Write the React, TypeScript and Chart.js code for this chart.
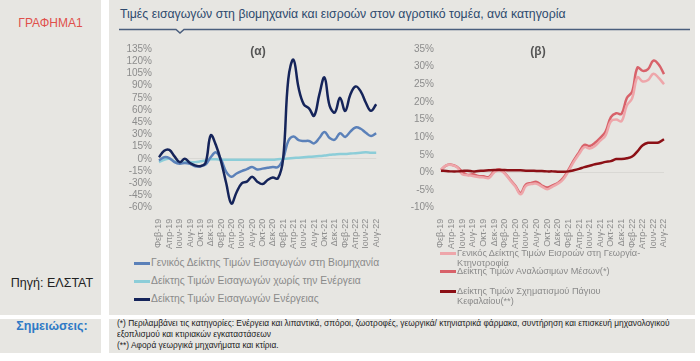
import React, { useEffect, useRef } from 'react';
import { Chart, registerables } from 'chart.js';
Chart.register(...registerables);

const months = [
  'Φεβ-19','Μαρ-19','Απρ-19','Μαϊ-19','Ιουν-19','Ιουλ-19','Αυγ-19','Σεπ-19','Οκτ-19','Νοε-19','Δεκ-19',
  'Ιαν-20','Φεβ-20','Μαρ-20','Απρ-20','Μαϊ-20','Ιουν-20','Ιουλ-20','Αυγ-20','Σεπ-20','Οκτ-20','Νοε-20','Δεκ-20',
  'Ιαν-21','Φεβ-21','Μαρ-21','Απρ-21','Μαϊ-21','Ιουν-21','Ιουλ-21','Αυγ-21','Σεπ-21','Οκτ-21','Νοε-21','Δεκ-21',
  'Ιαν-22','Φεβ-22','Μαρ-22','Απρ-22','Μαϊ-22','Ιουν-22','Ιουλ-22','Αυγ-22',
];

// (α) import prices in industry, % change
const industryGeneral = [
  -2, 2, 1, -4, -6, -5, -6, -9, -9, -7, 2, 8, -1, -16, -22, -18, -15, -12.6, -10, -13, -12, -11, -10,
  -10, 0, 22, 27.5, 23, 22, 22, 19, 25.6, 33, 25.6, 23.6, 31.5, 27, 33.5, 38.6, 37, 32, 28, 31.5,
];
const industryExEnergy = [
  -4, -1, 0, -3, -5, -4, -4, -4, -3, -2, -0.5, -0.5, -1, -1, -1, -1, -1, -1, -1, -1, -1, -1, -1,
  -0.5, 0, 0.5, 1, 1.5, 2, 2.5, 3, 3.5, 4, 5, 5.5, 6, 6, 6.5, 7, 7.5, 8, 7.5, 7.5,
];
const industryEnergy = [
  2, 10, 11, 3, -4, 0, -5, -8, -9, -5, 29, 17, -3, -30, -55, -41, -30, -28, -22, -28, -31, -26, -23,
  -24, 0, 98, 122, 87, 67, 62, 53, 79, 100, 65, 57, 75, 59, 79, 89, 83, 69, 59, 67,
];

// (β) input prices in agriculture, % change
const agriGeneral = [
  0.8, 2, 2.1, 1.5, -0.5, -0.8, -1, -1.3, -1.4, -1.6, 0, 0.7, -0.3, -2.2, -4, -6.2, -3.8, -3.3, -3.2, -4, -4.8, -4, -3.2,
  -2, 0.3, 3, 5.2, 7.2, 6.8, 7.5, 9, 10.5, 14.5, 15, 14.5, 19, 21, 27, 25.8, 26.2, 28, 26.8, 25,
];
const agriConsumables = [
  0.7, 2, 2.2, 1.6, 0.2, -0.7, -0.5, -1, -1.1, -1.3, 0.3, 0.9, -0.2, -2, -3.8, -5.8, -3.4, -3, -2.7, -3.7, -4.3, -3.7, -3,
  -1.6, 0.7, 3.4, 5.7, 7.8, 7.5, 8.4, 9.8, 11.6, 15.7, 16.8, 16.6, 21.1, 22.9, 29.7, 28.8, 29.3, 31.7, 30.6, 27.9,
];
const agriCapital = [
  0.5, 0.4, 0.3, 0.3, 0.4, 0.5, 0.3, 0.4, 0.5, 0.6, 0.7, 0.7, 0.7, 0.6, 0.6, 0.6, 0.5, 0.5, 0.4, 0.4, 0.3, 0.3, 0.2,
  0.2, 0.3, 0.6, 1, 1.5, 1.9, 2.3, 2.6, 3, 3.2, 3.8, 3.8, 4, 4.5, 6, 7.7, 8.4, 8.4, 8.5, 9.4,
];

const leftAxis = { min: -60, max: 135, step: 15 };
const rightAxis = { min: -10, max: 35, step: 5 };

const leftLegend = [
  { label: 'Γενικός Δείκτης Τιμών Εισαγωγών στη Βιομηχανία', color: '#5b81b9' },
  { label: 'Δείκτης Τιμών Εισαγωγών χωρίς την Ενέργεια', color: '#8ccdd8' },
  { label: 'Δείκτης Τιμών Εισαγωγών Ενέργειας', color: '#15245a' },
];
const rightLegend = [
  { label: ['Γενικός Δείκτης Τιμών Εισροών στη Γεωργία-', 'Κτηνοτροφία'], color: '#eea6aa' },
  { label: ['Δείκτης Τιμών Αναλώσιμων Μέσων(*)'], color: '#d8626a' },
  { label: ['Δείκτης Τιμών Σχηματισμού Πάγιου', 'Κεφαλαίου(**)'], color: '#8c1016' },
];

const notes = [
  '(*) Περιλαμβάνει τις κατηγορίες: Ενέργεια και λιπαντικά, σπόροι, ζωοτροφές, γεωργικά/ κτηνιατρικά φάρμακα, συντήρηση και επισκευή μηχανολογικού',
  'εξοπλισμού και κτιριακών εγκαταστάσεων',
  '(**) Αφορά γεωργικά μηχανήματα και κτίρια.',
];

const SANS = '"Liberation Sans", Arial, sans-serif';
const BG = '#e7e6e2';

type DS = { data: number[]; color: string; width: number; order: number };

function LineChart(props: {
  left: number; top: number; width: number; height: number;
  series: DS[]; axis: { min: number; max: number; step: number };
  yWidth: number; padRight: number; padTop: number; xHeight: number;
}) {
  const ref = useRef<HTMLCanvasElement | null>(null);
  useEffect(() => {
    if (!ref.current) return;
    const chart = new Chart(ref.current, {
      type: 'line',
      data: {
        labels: months,
        datasets: props.series.map((s) => ({
          data: s.data,
          borderColor: s.color,
          backgroundColor: s.color,
          borderWidth: s.width,
          pointRadius: 0,
          tension: 0.4,
          fill: false,
          order: s.order,
        })),
      },
      options: {
        animation: false,
        responsive: false,
        maintainAspectRatio: false,
        layout: { padding: { top: props.padTop, right: props.padRight, left: 0, bottom: 0 } },
        plugins: { legend: { display: false }, tooltip: { enabled: false }, title: { display: false } },
        scales: {
          x: {
            type: 'category',
            offset: false,
            grid: { display: false },
            border: { display: false },
            ticks: {
              autoSkip: false,
              minRotation: 90,
              maxRotation: 90,
              padding: 3,
              color: '#8c8c8c',
              font: { family: SANS, size: 9 },
              callback: (_v: any, i: number) => (i % 2 === 0 ? months[i] : ''),
            },
            afterFit: (s: any) => { s.height = props.xHeight; },
          },
          y: {
            min: props.axis.min,
            max: props.axis.max,
            grid: {
              drawTicks: false,
              color: (ctx: any) => (ctx.tick && ctx.tick.value === 0 ? '#d9d8d4' : 'rgba(0,0,0,0)'),
            },
            border: { display: false },
            ticks: {
              autoSkip: false,
              stepSize: props.axis.step,
              padding: 7,
              color: '#8c8c8c',
              font: { family: SANS, size: 10 },
              callback: (v: any) => `${v}%`,
            },
            afterFit: (s: any) => { s.width = props.yWidth; },
          },
        },
      } as any,
    });
    return () => chart.destroy();
  }, []);
  return (
    <canvas
      ref={ref}
      width={props.width}
      height={props.height}
      style={{ position: 'absolute', left: props.left, top: props.top, width: props.width, height: props.height }}
    />
  );
}

function LegendLine({ color }: { color: string }) {
  return <span style={{ display: 'inline-block', width: 16, height: 3, background: color, verticalAlign: 'middle', marginRight: 1 }} />;
}

export default function App() {
  return (
    <div style={{ position: 'fixed', left: 0, top: 0, width: 700, height: 361, background: '#ffffff', overflow: 'hidden', fontFamily: SANS }}>
      <div style={{ position: 'absolute', left: 0, top: 0, width: 101, height: 315, background: BG }} />
      <div style={{ position: 'absolute', left: 0, top: 319, width: 101, height: 34, background: BG }} />
      <div style={{ position: 'absolute', left: 109, top: 0, width: 586, height: 315, background: BG }} />
      <div style={{ position: 'absolute', left: 109, top: 319, width: 586, height: 34, background: BG }} />

      <div style={{ position: 'absolute', left: 0, top: 16, width: 101, textAlign: 'center', color: '#e0504a', fontSize: 12 }}>ΓΡΑΦΗΜΑ1</div>
      <div style={{ position: 'absolute', left: 0, top: 276, width: 104, textAlign: 'center', color: '#222', fontSize: 12.5 }}>Πηγή: ΕΛΣΤΑΤ</div>
      <div style={{ position: 'absolute', left: 0, top: 319, width: 104, textAlign: 'center', color: '#2f7ac6', fontSize: 12.5, fontWeight: 'bold' }}>Σημειώσεις:</div>

      <div style={{ position: 'absolute', left: 120, top: 7, color: '#2e4a6e', fontSize: 12.3, whiteSpace: 'nowrap' }}>
        Τιμές εισαγωγών στη βιομηχανία και εισροών στον αγροτικό τομέα, ανά κατηγορία
      </div>
      <svg style={{ position: 'absolute', left: 0, top: 0 }} width={700} height={40}>
        <polyline points="119,29.5 176,29.5 180,33 184,29.5 690,29.5" fill="none" stroke="#4a5e7d" strokeWidth={1.5} />
      </svg>

      <LineChart
        left={112} top={36} width={278} height={215}
        series={[
          { data: industryGeneral, color: '#5b81b9', width: 2.5, order: 1 },
          { data: industryExEnergy, color: '#8ccdd8', width: 2.5, order: 2 },
          { data: industryEnergy, color: '#15245a', width: 2.5, order: 0 },
        ]}
        axis={leftAxis} yWidth={47} padRight={7} padTop={6.5} xHeight={43.3}
      />
      <LineChart
        left={400} top={36} width={278} height={215}
        series={[
          { data: agriGeneral, color: '#eea6aa', width: 2.5, order: 1 },
          { data: agriConsumables, color: '#d8626a', width: 2.5, order: 2 },
          { data: agriCapital, color: '#8c1016', width: 2.5, order: 0 },
        ]}
        axis={rightAxis} yWidth={41} padRight={14} padTop={6.3} xHeight={43.3}
      />

      <div style={{ position: 'absolute', left: 238, top: 44, width: 40, textAlign: 'center', color: '#555', fontSize: 12, fontWeight: 'bold' }}>(α)</div>
      <div style={{ position: 'absolute', left: 518, top: 44, width: 40, textAlign: 'center', color: '#555', fontSize: 12, fontWeight: 'bold' }}>(β)</div>

      {leftLegend.map((l, i) => (
        <div key={i} style={{ position: 'absolute', left: 134, top: 257 + i * 18, color: '#8a8a8a', fontSize: 10.3, whiteSpace: 'nowrap', lineHeight: '12px' }}>
          <LegendLine color={l.color} />{l.label}
        </div>
      ))}
      {rightLegend.map((l, i) => (
        <div key={i} style={{ position: 'absolute', left: 440, top: [248, 266, 286][i], color: '#8a8a8a', fontSize: 9.2, whiteSpace: 'nowrap', lineHeight: '10px' }}>
          <div><LegendLine color={l.color} />{l.label[0]}</div>
          {l.label[1] ? <div style={{ paddingLeft: 17 }}>{l.label[1]}</div> : null}
        </div>
      ))}

      <div style={{ position: 'absolute', left: 117, top: 318, color: '#222', fontSize: 9, lineHeight: '11px', whiteSpace: 'nowrap', transform: 'scaleX(0.93)', transformOrigin: 'left top' }}>
        {notes.map((n, i) => <div key={i}>{n}</div>)}
      </div>
    </div>
  );
}
